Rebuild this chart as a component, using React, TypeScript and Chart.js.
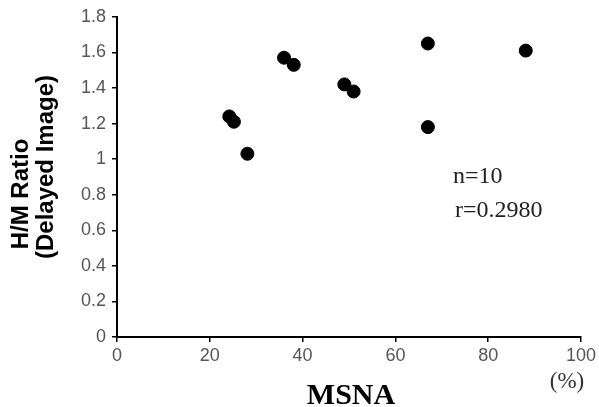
import React, { useEffect, useRef } from "react";
import { Chart, registerables } from "chart.js";

Chart.register(...registerables);

// MSNA (%) against H/M ratio of the delayed image, one point per subject
const msna = [24.2, 25.2, 28.1, 36.0, 38.1, 49.0, 51.0, 67.0, 67.0, 88.1];
const hmRatio = [1.24, 1.21, 1.03, 1.57, 1.53, 1.42, 1.38, 1.65, 1.18, 1.61];

const xTitle = "MSNA";
const xUnit = "(%)";
const yTitleLines = ["H/M Ratio", "(Delayed Image)"];
const statLines = ["n=10", "r=0.2980"];

const W = 599;
const H = 407;

const annotations = {
  id: "annotations",
  afterDraw(chart: any) {
    const ctx = chart.ctx;
    ctx.save();
    ctx.fillStyle = "#000";
    ctx.textBaseline = "alphabetic";

    // stacked y-axis title, rotated
    ctx.font = "bold 24px 'Liberation Sans', Arial, sans-serif";
    ctx.textAlign = "center";
    const lineBase = [[28, 194], [53, 167]];
    yTitleLines.forEach((t, i) => {
      ctx.save();
      ctx.translate(lineBase[i][0], lineBase[i][1]);
      ctx.rotate(-Math.PI / 2);
      ctx.fillText(t, 0, 0);
      ctx.restore();
    });

    // x-axis title and unit
    ctx.font = "bold 30px 'Liberation Serif', 'Times New Roman', serif";
    ctx.fillText(xTitle, 351, 404);
    ctx.fillStyle = "#333";
    ctx.font = "23px 'Liberation Serif', 'Times New Roman', serif";
    ctx.fillText(xUnit, 567, 388);

    // sample size and correlation
    ctx.fillStyle = "#222";
    ctx.textAlign = "left";
    ctx.font = "24px 'Liberation Serif', 'Times New Roman', serif";
    ctx.fillText(statLines[0], 453, 183);
    ctx.fillText(statLines[1], 455, 217);
    ctx.restore();
  },
};

const fmt = (v: number | string) => String(Number(Number(v).toFixed(1)));

export default function App() {
  const ref = useRef<HTMLCanvasElement>(null);

  useEffect(() => {
    if (!ref.current) return;
    const tickFont = { family: "'Liberation Sans', Arial, sans-serif", size: 18 };
    const chart = new Chart(ref.current, {
      type: "scatter",
      data: {
        datasets: [
          {
            data: msna.map((x, i) => ({ x, y: hmRatio[i] })),
            backgroundColor: "#000",
            borderColor: "#000",
            pointRadius: 6.5,
            pointHoverRadius: 6.5,
          },
        ],
      },
      options: {
        responsive: false,
        animation: false,
        layout: { padding: { left: 0, top: 16, right: 17, bottom: 0 } },
        plugins: { legend: { display: false }, tooltip: { enabled: false } },
        scales: {
          x: {
            type: "linear",
            min: 0,
            max: 100,
            afterFit: (s: any) => {
              s.height = 70;
            },
            ticks: { stepSize: 20, color: "#555", font: tickFont, padding: 3, callback: fmt },
            grid: {
              display: true,
              drawOnChartArea: false,
              drawTicks: true,
              tickLength: 5,
              color: "#000",
              lineWidth: 1.5,
            },
            border: { display: true, color: "#000", width: 2 },
          },
          y: {
            type: "linear",
            min: 0,
            max: 1.8,
            afterFit: (s: any) => {
              s.width = 117;
            },
            ticks: { stepSize: 0.2, color: "#555", font: tickFont, padding: 6, callback: fmt },
            grid: {
              display: true,
              drawOnChartArea: false,
              drawTicks: true,
              tickLength: 5,
              color: "#000",
              lineWidth: 1.5,
            },
            border: { display: true, color: "#000", width: 2 },
          },
        },
      },
      plugins: [annotations],
    });
    return () => chart.destroy();
  }, []);

  return (
    <div style={{ position: "fixed", left: 0, top: 0, width: W, height: H, background: "#fff" }}>
      <canvas ref={ref} width={W} height={H} />
    </div>
  );
}
